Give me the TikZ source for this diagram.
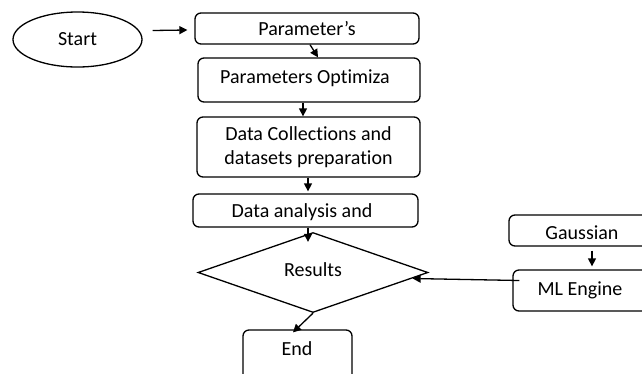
\documentclass[tikz,border=0pt]{standalone}
\usepackage{fontspec}
\setmainfont[Ligatures=NoCommon]{Carlito}
\usetikzlibrary{arrows.meta,shapes.geometric,calc}
\begin{document}
\begin{tikzpicture}[x=1pt,y=-1pt,
  box/.style={draw,rounded corners=6pt,line width=1.3pt,inner sep=0pt},
  lbl/.style={font=\fontsize{20}{24}\selectfont},
  arr/.style={-{Triangle[length=8pt,width=8pt]},line width=1.3pt}]
\clip (0,0) rectangle (642,373);
\fill[white] (0,0) rectangle (642,373);
\node[draw,ellipse,line width=1.3pt,minimum width=129pt,minimum height=55pt,inner sep=0pt,lbl] (start) at (77.5,39.5) {Start};
\node[box,minimum width=224pt,minimum height=31pt,lbl] (param) at (307,28.5) {Parameter’s};
\node[box,minimum width=222pt,minimum height=44pt,lbl] (opt) at (309,80) {};
\node[lbl] (optt) at (305,78) {Parameters Optimiza};
\node[box,minimum width=223pt,minimum height=60pt,lbl,align=center] (coll) at (308.5,147) {Data Collections and\\datasets preparation};
\node[box,minimum width=225pt,minimum height=33pt] (ana) at (305.5,210.5) {};
\node[lbl] (anat) at (302,212) {Data analysis and};
\node[draw,diamond,aspect=2.875,minimum width=230pt,minimum height=80pt,inner sep=0pt,line width=1.3pt] (res) at (313,272.5) {};
\node[lbl] (rest) at (313,270) {Results};
\node[box,minimum width=141pt,minimum height=31pt] (gauss) at (579.5,230.5) {};
\node[lbl] (gausst) at (582,233) {Gaussian};
\node[box,minimum width=137pt,minimum height=41pt] (ml) at (581.5,290.5) {};
\node[lbl] (mlt) at (580,290) {ML Engine};
\node[box,minimum width=109pt,minimum height=55pt] (end) at (297.5,357.5) {};
\node[lbl] (endt) at (297,349) {End};
\draw[arr] ($(start.east)+(10,-9)$) -- ($(param.west)+(-7,1.5)$);
\draw[arr] ($(param.south)+(3,0)$) -- ($(opt.north)+(9,0)$);
\draw[arr] ($(opt.south)+(-6,0)$) -- ($(coll.north)+(-5.5,0)$);
\draw[arr] ($(coll.south)+(-0.5,0)$) -- ($(ana.north)+(2.5,-2)$);
\draw[arr] ($(ana.south)+(2.5,0)$) -- ($(res.north)+(-5,10)$);
\draw[arr] ($(gauss.south)+(12.5,4)$) -- ($(ml.north)+(10.5,-3)$);
\draw[arr] ($(ml.west)+(7,-10)$) -- ($(res.east)+(-16,6)$);
\draw[arr] (res.south) -- ($(end.north)+(-4.5,3)$);
\end{tikzpicture}
\end{document}
